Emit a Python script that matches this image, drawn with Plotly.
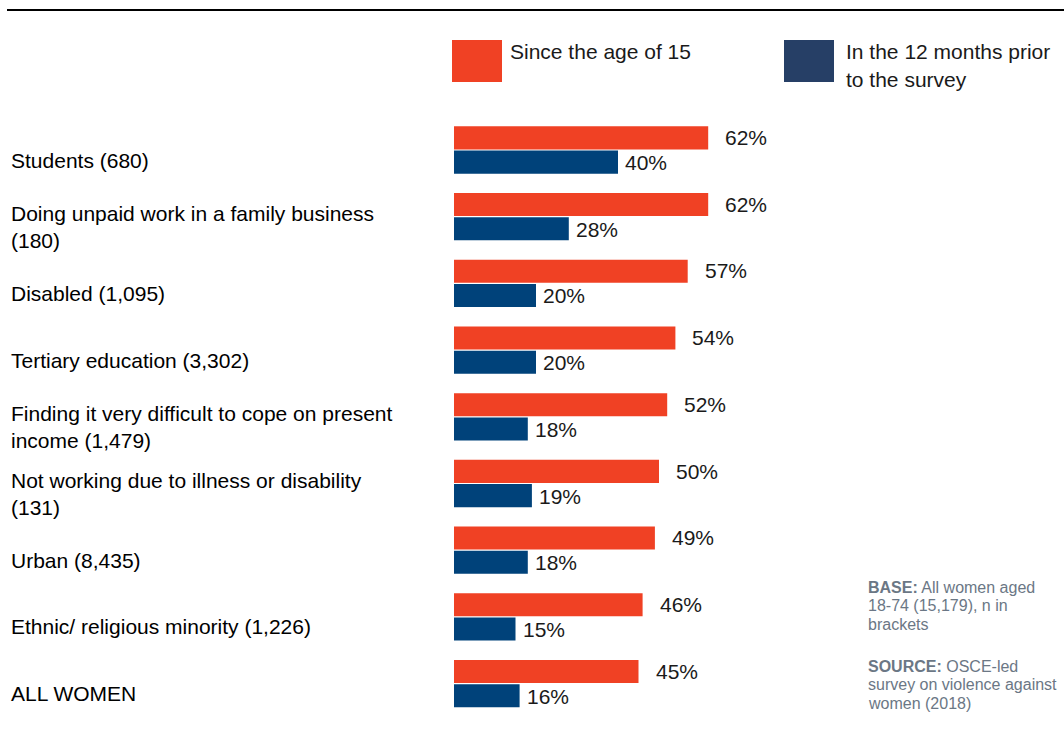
import plotly.graph_objects as go

W, H = 1064, 736

categories = [
    "Students (680)",
    "Doing unpaid work in a family business<br>(180)",
    "Disabled (1,095)",
    "Tertiary education (3,302)",
    "Finding it very difficult to cope on present<br>income (1,479)",
    "Not working due to illness or disability<br>(131)",
    "Urban (8,435)",
    "Ethnic/ religious minority (1,226)",
    "ALL WOMEN",
]
since_15 = [62, 62, 57, 54, 52, 50, 49, 46, 45]
last_12m = [40, 28, 20, 20, 18, 19, 18, 15, 16]

series_names = ["Since the age of 15", "In the 12 months prior<br>to the survey"]
note_lines = [
    ["<b>BASE:</b> All women aged", "18-74 (15,179), n in", "brackets"],
    ["<b>SOURCE:</b> OSCE-led", "survey on violence against", "women (2018)"],
]

ORANGE = "#F04124"
BLUE = "#00427A"
LEG_BLUE = "#263F66"
FONT = "Liberation Sans, Arial, sans-serif"
TXT = "#1A1A1A"
GREY = "#6B7785"


def px(x):
    return x / W


def py(y):
    return 1 - y / H


fig = go.Figure()
fig.add_trace(go.Bar(y=categories, x=since_15, orientation="h", marker=dict(color=ORANGE, line=dict(width=0)),
                     name="Since the age of 15", showlegend=False))
fig.add_trace(go.Bar(y=categories, x=last_12m, orientation="h", marker=dict(color=BLUE, line=dict(width=0)),
                     name="In the 12 months prior to the survey", showlegend=False))

annotations = []
for cat, v1, v2 in zip(categories, since_15, last_12m):
    annotations.append(dict(x=v1, y=cat, xref="x", yref="y", text=f"{v1}%", showarrow=False,
                            xanchor="left", yanchor="middle", xshift=15, yshift=12.5,
                            font=dict(family=FONT, size=21, color=TXT)))
    annotations.append(dict(x=v2, y=cat, xref="x", yref="y", text=f"{v2}%", showarrow=False,
                            xanchor="left", yanchor="middle", xshift=5, yshift=-12.5,
                            font=dict(family=FONT, size=21, color=TXT)))
    lines = cat.split("<br>")
    n = len(lines)
    for j, line in enumerate(lines):
        annotations.append(dict(x=px(9), y=cat, xref="paper", yref="y", text=line, showarrow=False,
                                xanchor="left", yanchor="middle",
                                yshift=-10 - (j - (n - 1) / 2) * 27,
                                font=dict(family=FONT, size=21, color="#000000")))

# legend
shapes = [
    dict(type="line", xref="paper", yref="paper", x0=px(7), x1=1, y0=py(10), y1=py(10),
         line=dict(color="#000000", width=2)),
    dict(type="rect", xref="paper", yref="paper", x0=px(452), x1=px(502), y0=py(82), y1=py(40),
         fillcolor=ORANGE, line=dict(width=0)),
    dict(type="rect", xref="paper", yref="paper", x0=px(784), x1=px(834), y0=py(82), y1=py(40),
         fillcolor=LEG_BLUE, line=dict(width=0)),
]
leg_pos = [(508, 51), (844, 51)]
for name, (lx, ly) in zip(series_names, leg_pos):
    for j, line in enumerate(name.split("<br>")):
        annotations.append(dict(x=px(lx), y=py(ly + j * 28), xref="paper", yref="paper", text=line,
                                showarrow=False, xanchor="left", yanchor="middle",
                                font=dict(family=FONT, size=21, color=TXT)))

note_tops = [587, 666]
for block, top in zip(note_lines, note_tops):
    for j, line in enumerate(block):
        annotations.append(dict(x=px(866), y=py(top + j * 18.5), xref="paper", yref="paper", text=line,
                                showarrow=False, xanchor="left", yanchor="middle",
                                font=dict(family=FONT, size=16, color=GREY)))

fig.update_layout(
    width=W, height=H,
    margin=dict(l=0, r=0, t=0, b=0),
    paper_bgcolor="white", plot_bgcolor="white",
    barmode="group", bargap=0.273, bargroupgap=0.05,
    xaxis=dict(range=[0, 100], domain=[454 / W, 864 / W], visible=False, fixedrange=True),
    yaxis=dict(autorange=False, range=[8.5, -0.5], domain=[1 - 716.95 / H, 1 - 116.65 / H],
               showticklabels=False, showgrid=False, zeroline=False, showline=False, ticks="",
               fixedrange=True),
    annotations=annotations,
    shapes=shapes,
    showlegend=False,
)

fig.write_html("out.html", config={"displayModeBar": False},
               post_script="document.body.style.margin='0';document.body.style.overflow='hidden';")
